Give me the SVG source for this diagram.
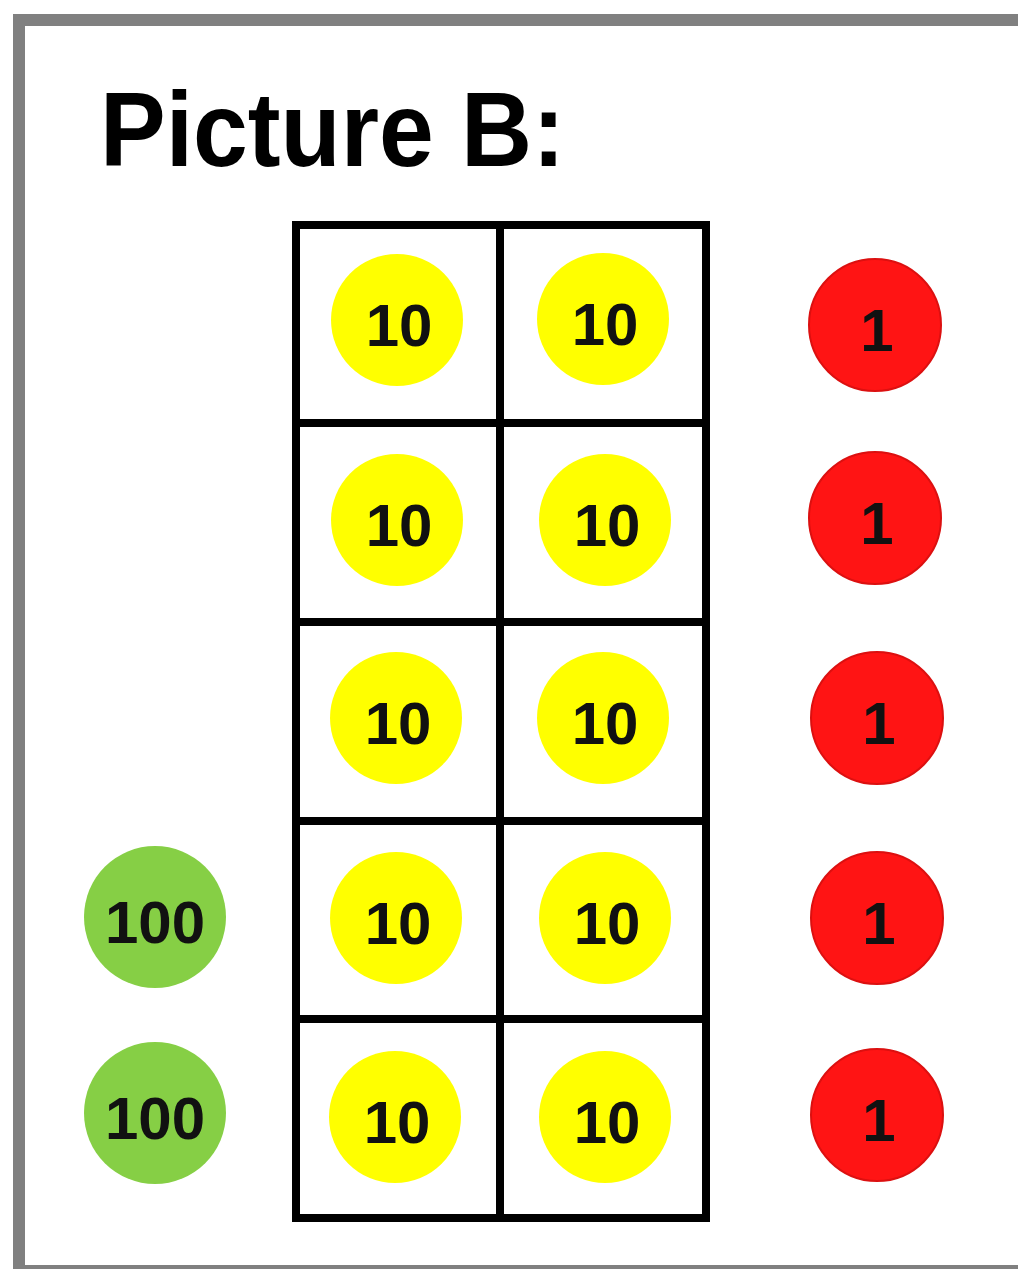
<svg xmlns="http://www.w3.org/2000/svg" width="1018" height="1269" viewBox="0 0 1018 1269">
<style>
.lbl{font-family:"Liberation Sans",Arial,sans-serif;font-weight:bold;font-size:60px;fill:#111;text-anchor:middle}
.ten{fill:#ffff00}
.one{fill:#ff1414;stroke:#dc1010;stroke-width:2}
.hun{fill:#86cf45}
.grid{fill:none;stroke:#000;stroke-width:8}
</style>
<rect x="0" y="0" width="1018" height="1269" fill="#ffffff"/>
<rect id="frame" x="19" y="20" width="1020" height="1251" fill="#ffffff" stroke="#808080" stroke-width="12"/>
<text id="title" x="100" y="166" font-family="'Liberation Sans',Arial,sans-serif" font-weight="bold" font-size="106" fill="#000" textLength="465" lengthAdjust="spacingAndGlyphs">Picture B:</text>
<g id="grid" class="grid">
<rect x="296" y="225" width="410" height="993"/>
<line x1="500" y1="225" x2="500" y2="1218"/>
<line x1="296" y1="423" x2="706" y2="423"/>
<line x1="296" y1="622" x2="706" y2="622"/>
<line x1="296" y1="821" x2="706" y2="821"/>
<line x1="296" y1="1019" x2="706" y2="1019"/>
</g>
<g id="tens">
<g id="t1a"><circle class="ten" cx="397" cy="320" r="66"/><text class="lbl" x="399" y="346">10</text></g>
<g id="t1b"><circle class="ten" cx="603" cy="319" r="66"/><text class="lbl" x="605" y="345">10</text></g>
<g id="t2a"><circle class="ten" cx="397" cy="520" r="66"/><text class="lbl" x="399" y="546">10</text></g>
<g id="t2b"><circle class="ten" cx="605" cy="520" r="66"/><text class="lbl" x="607" y="546">10</text></g>
<g id="t3a"><circle class="ten" cx="396" cy="718" r="66"/><text class="lbl" x="398" y="744">10</text></g>
<g id="t3b"><circle class="ten" cx="603" cy="718" r="66"/><text class="lbl" x="605" y="744">10</text></g>
<g id="t4a"><circle class="ten" cx="396" cy="918" r="66"/><text class="lbl" x="398" y="944">10</text></g>
<g id="t4b"><circle class="ten" cx="605" cy="918" r="66"/><text class="lbl" x="607" y="944">10</text></g>
<g id="t5a"><circle class="ten" cx="395" cy="1117" r="66"/><text class="lbl" x="397" y="1143">10</text></g>
<g id="t5b"><circle class="ten" cx="605" cy="1117" r="66"/><text class="lbl" x="607" y="1143">10</text></g>
</g>
<g id="ones">
<g id="o1"><circle class="one" cx="875" cy="325" r="66"/><text class="lbl" x="877" y="351">1</text></g>
<g id="o2"><circle class="one" cx="875" cy="518" r="66"/><text class="lbl" x="877" y="544">1</text></g>
<g id="o3"><circle class="one" cx="877" cy="718" r="66"/><text class="lbl" x="879" y="744">1</text></g>
<g id="o4"><circle class="one" cx="877" cy="918" r="66"/><text class="lbl" x="879" y="944">1</text></g>
<g id="o5"><circle class="one" cx="877" cy="1115" r="66"/><text class="lbl" x="879" y="1141">1</text></g>
</g>
<g id="hundreds">
<g id="h1"><circle class="hun" cx="155" cy="917" r="71"/><text class="lbl" x="155" y="943">100</text></g>
<g id="h2"><circle class="hun" cx="155" cy="1113" r="71"/><text class="lbl" x="155" y="1139">100</text></g>
</g>
</svg>
